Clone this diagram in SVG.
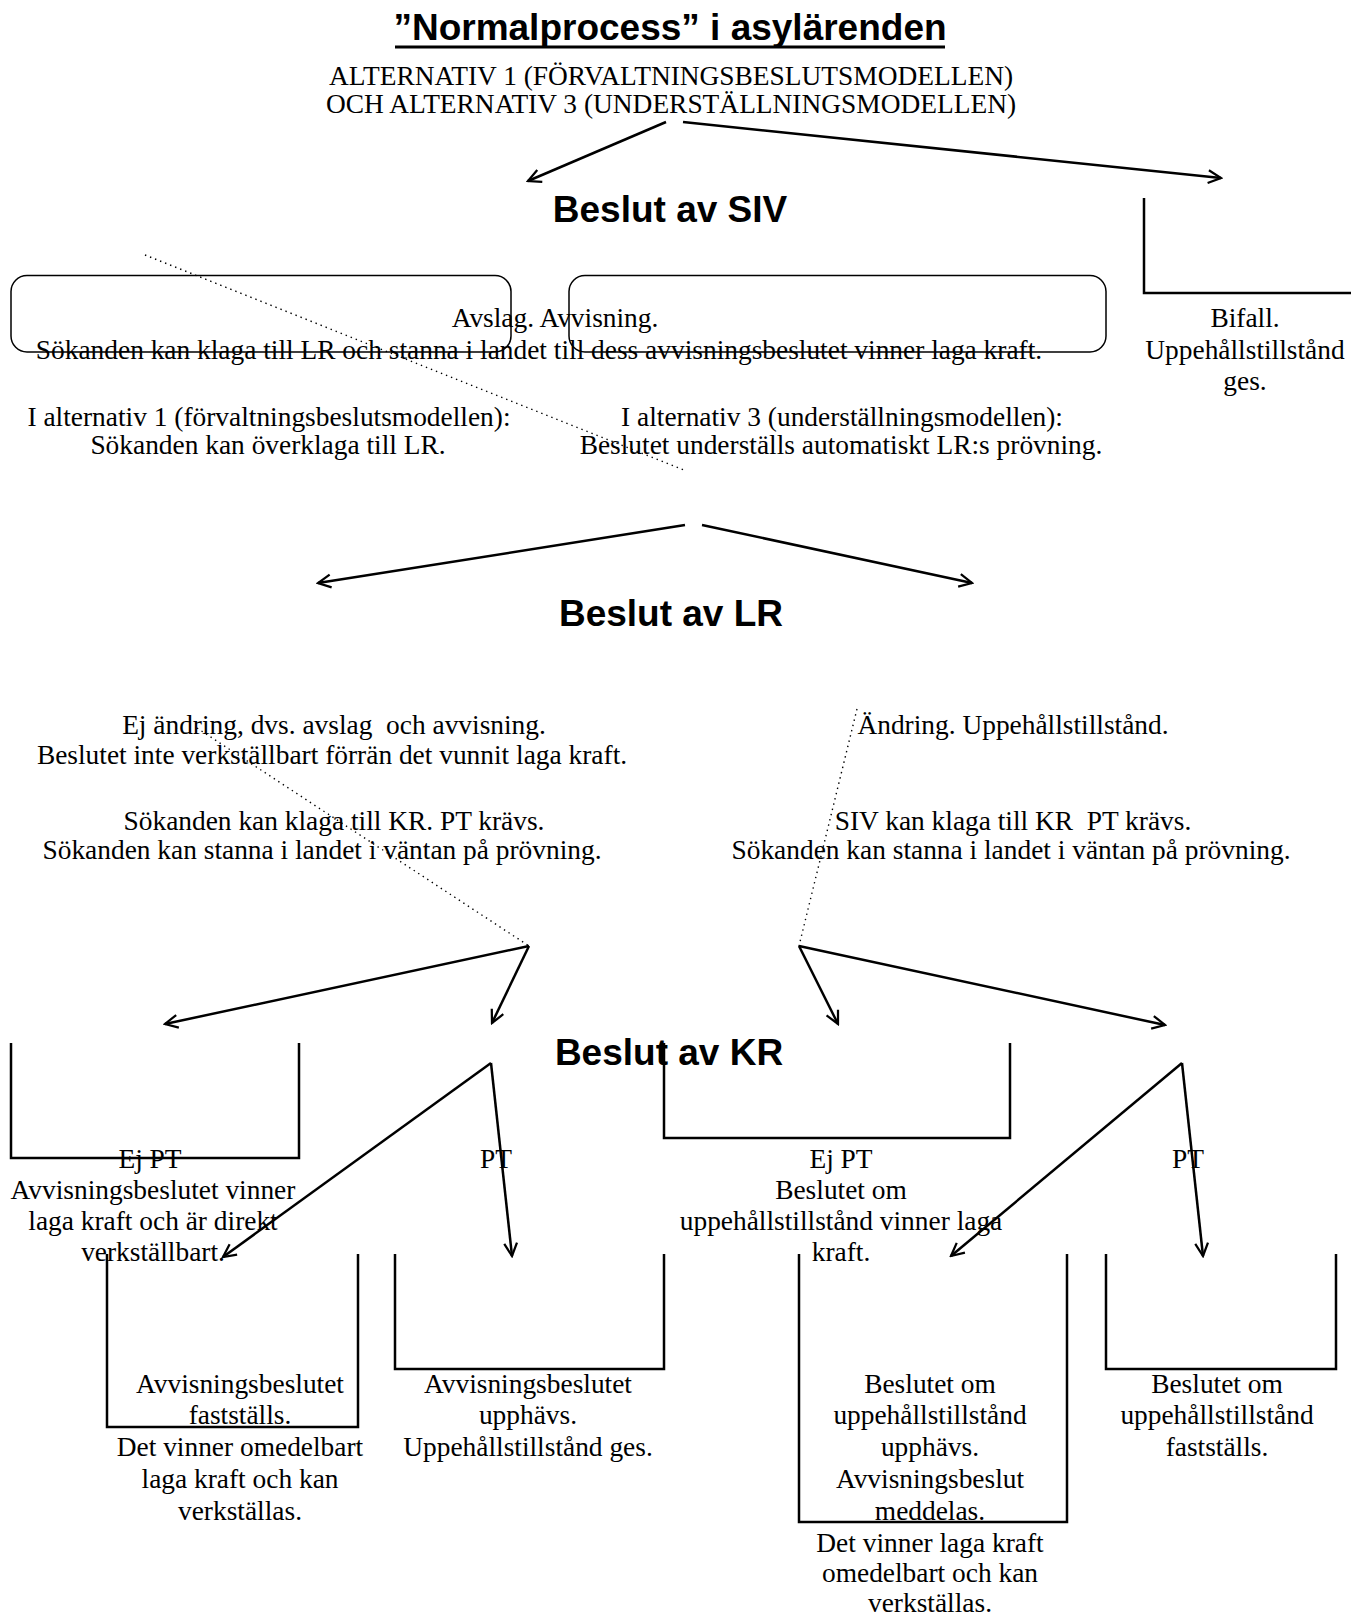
<svg xmlns="http://www.w3.org/2000/svg" width="1351" height="1618" viewBox="0 0 1351 1618">
<defs>
<marker id="ah" viewBox="0 0 10 10" refX="9" refY="5" markerWidth="16" markerHeight="16" markerUnits="userSpaceOnUse" orient="auto">
<path d="M1,1 L9,5 L1,9" fill="none" stroke="#000" stroke-width="1.4"/>
</marker>
</defs>
<style>
.t{font-family:"Liberation Serif","Times New Roman",serif;font-size:27.4px;fill:#000;text-anchor:middle;white-space:pre}
.h{font-family:"Liberation Sans",Arial,sans-serif;font-size:37px;font-weight:bold;fill:#000;text-anchor:middle}
.box{fill:none;stroke:#000;stroke-width:2.5}
.rr{fill:none;stroke:#000;stroke-width:1.5}
.arr{fill:none;stroke:#000;stroke-width:2.5;marker-end:url(#ah)}
.dot{fill:none;stroke:#000;stroke-width:1.4;stroke-dasharray:1.4 4}
</style>
<rect width="1351" height="1618" fill="#fff"/>

<g id="title">
<text class="h" x="670" y="40">”Normalprocess” i asylärenden</text>
<line x1="395" y1="47" x2="945" y2="47" stroke="#000" stroke-width="3"/>
</g>
<g id="subtitle">
<text class="t" x="671" y="85">ALTERNATIV 1 (FÖRVALTNINGSBESLUTSMODELLEN)</text>
<text class="t" x="671" y="113">OCH ALTERNATIV 3 (UNDERSTÄLLNINGSMODELLEN)</text>
</g>
<g id="heading-siv"><text class="h" x="670" y="222">Beslut av SIV</text></g>

<g id="siv-avslag">
<rect class="rr" x="11" y="275.5" width="500" height="76.5" rx="16"/>
<rect class="rr" x="569" y="275.5" width="537" height="76.5" rx="16"/>
<text class="t" x="555" y="327">Avslag. Avvisning.</text>
<text class="t" x="539" y="359">Sökanden kan klaga till LR och stanna i landet till dess avvisningsbeslutet vinner laga kraft.</text>
</g>
<g id="siv-bifall">
<polyline class="box" points="1144,198 1144,293 1351,293"/>
<text class="t" x="1245" y="327">Bifall.</text>
<text class="t" x="1245" y="359">Uppehållstillstånd</text>
<text class="t" x="1245" y="390">ges.</text>
</g>
<g id="alt1">
<text class="t" x="269" y="426">I alternativ 1 (förvaltningsbeslutsmodellen):</text>
<text class="t" x="268" y="454">Sökanden kan överklaga till LR.</text>
</g>
<g id="alt3">
<text class="t" x="842" y="426">I alternativ 3 (underställningsmodellen):</text>
<text class="t" x="841" y="454">Beslutet underställs automatiskt LR:s prövning.</text>
</g>

<g id="heading-lr"><text class="h" x="671" y="626">Beslut av LR</text></g>
<g id="lr-ej-andring">
<text class="t" x="334" y="734">Ej ändring, dvs. avslag  och avvisning.</text>
<text class="t" x="332" y="764">Beslutet inte verkställbart förrän det vunnit laga kraft.</text>
<text class="t" x="334" y="830">Sökanden kan klaga till KR. PT krävs.</text>
<text class="t" x="322" y="859">Sökanden kan stanna i landet i väntan på prövning.</text>
</g>
<g id="lr-andring">
<text class="t" x="1013" y="734">Ändring. Uppehållstillstånd.</text>
<text class="t" x="1013" y="830">SIV kan klaga till KR  PT krävs.</text>
<text class="t" x="1011" y="859">Sökanden kan stanna i landet i väntan på prövning.</text>
</g>

<g id="heading-kr"><text class="h" x="669" y="1065">Beslut av KR</text></g>
<g id="kr-left-ejpt">
<polyline class="box" points="11,1043 11,1158 299,1158 299,1043"/>
<text class="t" x="150" y="1168">Ej PT</text>
<text class="t" x="153" y="1199">Avvisningsbeslutet vinner</text>
<text class="t" x="153" y="1230">laga kraft och är direkt</text>
<text class="t" x="153" y="1261">verkställbart.</text>
</g>
<g id="kr-left-pt"><text class="t" x="496" y="1168">PT</text></g>
<g id="kr-right-ejpt">
<polyline class="box" points="664,1043 664,1138 1010,1138 1010,1043"/>
<text class="t" x="841" y="1168">Ej PT</text>
<text class="t" x="841" y="1199">Beslutet om</text>
<text class="t" x="841" y="1230">uppehållstillstånd vinner laga</text>
<text class="t" x="841" y="1261">kraft.</text>
</g>
<g id="kr-right-pt"><text class="t" x="1188" y="1168">PT</text></g>

<g id="res-1">
<polyline class="box" points="107,1254 107,1427 358,1427 358,1254"/>
<text class="t" x="240" y="1393">Avvisningsbeslutet</text>
<text class="t" x="240" y="1424">fastställs.</text>
<text class="t" x="240" y="1456">Det vinner omedelbart</text>
<text class="t" x="240" y="1488">laga kraft och kan</text>
<text class="t" x="240" y="1520">verkställas.</text>
</g>
<g id="res-2">
<polyline class="box" points="395,1254 395,1369 664,1369 664,1254"/>
<text class="t" x="528" y="1393">Avvisningsbeslutet</text>
<text class="t" x="528" y="1424">upphävs.</text>
<text class="t" x="528" y="1456">Uppehållstillstånd ges.</text>
</g>
<g id="res-3">
<polyline class="box" points="799,1254 799,1522 1067,1522 1067,1254"/>
<text class="t" x="930" y="1393">Beslutet om</text>
<text class="t" x="930" y="1424">uppehållstillstånd</text>
<text class="t" x="930" y="1456">upphävs.</text>
<text class="t" x="930" y="1488">Avvisningsbeslut</text>
<text class="t" x="930" y="1520">meddelas.</text>
<text class="t" x="930" y="1552">Det vinner laga kraft</text>
<text class="t" x="930" y="1582">omedelbart och kan</text>
<text class="t" x="930" y="1612">verkställas.</text>
</g>
<g id="res-4">
<polyline class="box" points="1106,1254 1106,1369 1336,1369 1336,1254"/>
<text class="t" x="1217" y="1393">Beslutet om</text>
<text class="t" x="1217" y="1424">uppehållstillstånd</text>
<text class="t" x="1217" y="1456">fastställs.</text>
</g>

<g id="connectors">
<line class="arr" x1="666" y1="122" x2="528" y2="181"/>
<line class="arr" x1="683" y1="122" x2="1221" y2="178"/>
<line class="dot" x1="145" y1="255" x2="684" y2="470"/>
<line class="arr" x1="685" y1="525" x2="318" y2="583"/>
<line class="arr" x1="702" y1="525" x2="972" y2="583"/>
<line class="dot" x1="197" y1="728" x2="529" y2="946"/>
<line class="dot" x1="857" y1="709" x2="799" y2="946"/>
<line class="arr" x1="529" y1="946" x2="165" y2="1024"/>
<line class="arr" x1="529" y1="946" x2="492" y2="1023"/>
<line class="arr" x1="799" y1="946" x2="838" y2="1024"/>
<line class="arr" x1="799" y1="946" x2="1165" y2="1025"/>
<line class="arr" x1="491" y1="1063" x2="223" y2="1257"/>
<line class="arr" x1="491" y1="1063" x2="512" y2="1256"/>
<line class="arr" x1="1182" y1="1063" x2="951" y2="1256"/>
<line class="arr" x1="1182" y1="1063" x2="1203" y2="1256"/>
</g>
</svg>
